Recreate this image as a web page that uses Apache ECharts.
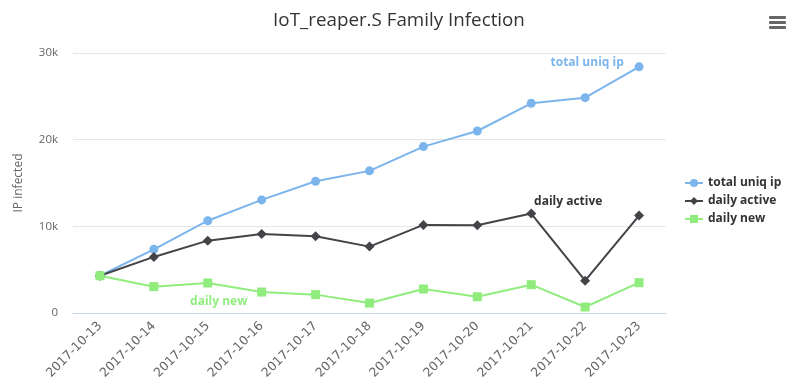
<!DOCTYPE html>
<html><head><meta charset="utf-8">
<script src="https://cdn.jsdelivr.net/npm/echarts@6/dist/echarts.min.js"></script>
<style>html,body{margin:0;padding:0;background:#fff}#c{width:798px;height:384px}</style>
</head><body><div id="c"></div>
<script>
const categories = ['2017-10-13','2017-10-14','2017-10-15','2017-10-16','2017-10-17','2017-10-18','2017-10-19','2017-10-20','2017-10-21','2017-10-22','2017-10-23'];
const totalUniqIp = [4300, 7350, 10650, 13050, 15200, 16400, 19200, 21000, 24200, 24850, 28400];
const dailyActive = [4300, 6470, 8350, 9120, 8850, 7660, 10160, 10130, 11470, 3730, 11240];
const dailyNew = [4300, 3040, 3460, 2420, 2120, 1150, 2770, 1880, 3270, 690, 3500];
const yTicks = [0, 10000, 20000, 30000];

const FONT = '"Open Sans", "DejaVu Sans", sans-serif';
function withLabel(arr, idx, name, color, offset) {
  return arr.map((v, i) => i === idx ? {value: v, label: {show: true, formatter: name, color: color, fontWeight: 'bold', fontSize: 12, fontFamily: FONT, offset: offset, position: 'top'}} : v);
}
const chart = echarts.init(document.getElementById('c'));
chart.setOption({
  animation: false,
  title: {text: 'IoT_reaper.S Family Infection', left: 'center', top: 6, textStyle: {fontFamily: FONT, fontSize: 18.8, fontWeight: 'normal', color: '#333'}},
  grid: {left: 73, right: 132, top: 53, bottom: 71},
  legend: {orient: 'vertical', left: 679, top: 172, itemGap: 6, itemWidth: 18, itemHeight: 10, textStyle: {fontFamily: FONT, fontSize: 12, fontWeight: 'bold', color: '#333'}, data: ['total uniq ip', 'daily active', 'daily new']},
  xAxis: {type: 'category', data: categories, boundaryGap: true,
    axisLine: {lineStyle: {color: '#ccd6eb'}}, axisTick: {alignWithLabel: true, length: 10, lineStyle: {color: '#ccd6eb'}},
    axisLabel: {rotate: 45, color: '#666', fontFamily: '"DejaVu Sans", sans-serif', fontSize: 12.5, margin: 11}},
  yAxis: {type: 'value', min: 0, max: 30000, interval: 10000, name: 'IP infected', nameLocation: 'middle', nameGap: 48, nameRotate: 90,
    nameTextStyle: {color: '#666', fontFamily: FONT, fontSize: 12},
    axisLabel: {color: '#666', fontFamily: FONT, fontSize: 11.5, margin: 15, formatter: v => yTicks.indexOf(v) >= 0 ? (v === 0 ? '0' : (v/1000) + 'k') : ''},
    splitLine: {lineStyle: {color: '#e6e6e6'}}, axisLine: {show: false}, axisTick: {show: false}},
  graphic: [
    {type: 'rect', shape: {x: 769, y: 16, width: 17, height: 3, r: 1}, style: {fill: '#666'}},
    {type: 'rect', shape: {x: 769, y: 21, width: 17, height: 3, r: 1}, style: {fill: '#666'}},
    {type: 'rect', shape: {x: 769, y: 26, width: 17, height: 3, r: 1}, style: {fill: '#666'}}
  ],
  series: [
    {name: 'total uniq ip', type: 'line', data: withLabel(totalUniqIp, 9, 'total uniq ip', '#7cb5ec', [2, -20]), symbol: 'circle', symbolSize: 9, itemStyle: {color: '#7cb5ec'}, lineStyle: {width: 2}},
    {name: 'daily active', type: 'line', data: withLabel(dailyActive, 8, 'daily active', '#333', [37, 4]), symbol: 'diamond', symbolSize: 10, itemStyle: {color: '#434348'}, lineStyle: {width: 2}},
    {name: 'daily new', type: 'line', data: withLabel(dailyNew, 2, 'daily new', '#90ed7d', [11, 34]), symbol: 'rect', symbolSize: 9, itemStyle: {color: '#90ed7d'}, lineStyle: {width: 2}}
  ]
});
</script></body></html>
